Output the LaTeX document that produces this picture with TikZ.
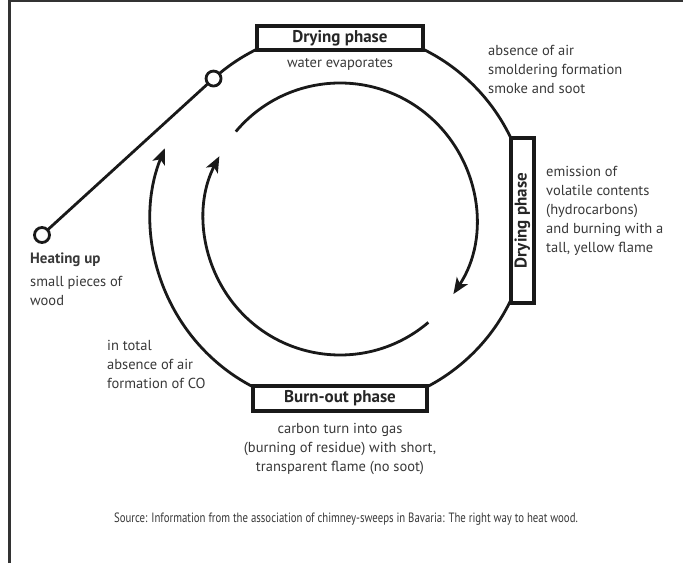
\documentclass[tikz,border=0pt]{standalone}
\usepackage{fontspec}
\setmainfont{PT Sans}
\newfontfamily\narrowfont[FakeStretch=0.8]{PT Sans}
\usetikzlibrary{positioning,arrows.meta}

\begin{document}
\begin{tikzpicture}[
	x=1pt, y=1pt,
	phase/.style={
		draw=black!90,
		line width=3.5pt,
		fill=white,
		inner sep=0pt,
		minimum height=24pt,
		font=\fontsize{17}{20}\selectfont\bfseries,
		text=black!85
	},
	note/.style={inner sep=0pt, align=left, font=\fontsize{14.5}{19}\selectfont, text=black!78},
	flow/.style={line width=2.8pt, draw=black!90, -{Stealth[length=16pt,width=13pt,inset=4pt]}},
	ring/.style={circle, draw=black!90, line width=2.8pt, fill=white, minimum size=15pt, inner sep=0pt},
	frame/.style={line width=3pt, draw=black!80}
	]
	\useasboundingbox (0,0) rectangle (683,563);
	
	\coordinate (ctr) at (340,344);
	\coordinate (start) at (42,328);
	\path (ctr) ++(132:189) coordinate (knotpos);
	\path (ctr) ++(140:136) coordinate (in1);
	\path (ctr) ++(-49.5:136) coordinate (in2);
	
	% page frame
	\draw[frame] (9,0) -- (9,562) -- (683,562);
	
	% cycle
	\draw[line width=2.8pt, draw=black!90] (start) -- (knotpos);
	\draw[flow] (knotpos) arc[start angle=132, end angle=-202, radius=189];
	\draw[flow] (in1) arc[start angle=140, end angle=-33.5, radius=136];
	\draw[flow] (in2) arc[start angle=-49.5, end angle=-207.5, radius=136];
	
	\node[ring] (heat) at (start) {};
	\node[ring] (knot) at (knotpos) {};
	
	\node[phase, minimum width=166pt] (dry) at (340,525) {Drying phase};
	\node[phase, minimum width=165pt, minimum height=23pt, rotate=90] (gas) at (522.5,342.5) {Drying phase};
	\node[phase, minimum width=174pt, minimum height=25pt] (burn) at (340,164.5) {Burn-out phase};
	
	% texts
	\node[note, align=center, below=7pt of dry] (water) {water evaporates};
	\node[note, anchor=north west] (smolder) at (488,518) {absence of air\\ smoldering formation\\ smoke and soot};
	\node[note, anchor=north west] (emit) at (546,397) {emission of\\ volatile contents\\ (hydrocarbons)\\ and burning with a\\ tall, yellow flame};
	\node[note, anchor=north west, font=\fontsize{15}{19}\selectfont\bfseries] (heatlbl) at (30,310) {Heating up};
	\node[note, below=9pt of heatlbl.south west, anchor=north west] (pieces) {small pieces of\\ wood};
	\node[note, anchor=north west] (total) at (107,223) {in total\\ absence of air\\ formation of CO};
	\node[note, align=center, below=10pt of burn] (carbon) {carbon turn into gas\\ (burning of residue) with short,\\ transparent flame (no soot)};
	\node[note, anchor=base, font=\narrowfont\fontsize{13.5}{16}\selectfont] (source) at (346,41) {Source: Information from the association of chimney-sweeps in Bavaria: The right way to heat wood.};
	
\end{tikzpicture}
\end{document}
